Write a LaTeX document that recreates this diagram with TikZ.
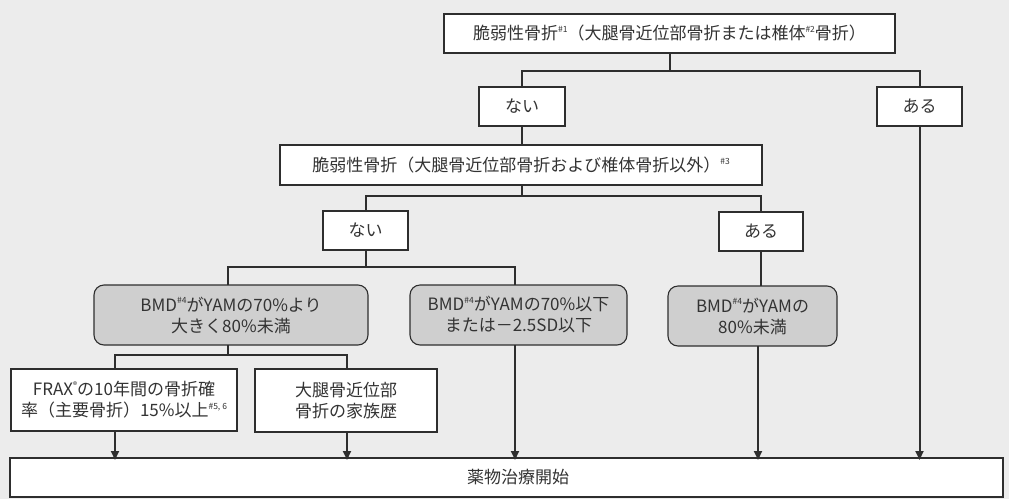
\documentclass[tikz,border=0pt]{standalone}
\usepackage{fontspec}
\setmainfont{Noto Sans CJK JP}
\usetikzlibrary{arrows.meta}
\definecolor{bgc}{HTML}{ECECEC}
\definecolor{grayfill}{HTML}{CFCFCF}
\definecolor{linec}{HTML}{2E2E2E}
\definecolor{textc}{HTML}{333333}
\newcommand{\supnote}[1]{\raisebox{0.8ex}{\fontsize{8.5}{8.5}\selectfont #1}}
\tikzset{
  box/.style={draw=linec, line width=1.1pt, fill=white, inner sep=0pt, outer sep=0pt,
    align=center, text=textc, font=\fontsize{17}{21}\selectfont},
  gbox/.style={box, fill=grayfill, rounded corners=10pt},
  conn/.style={draw=linec, line width=2pt},
  arr/.style={conn, -{Triangle[length=9pt,width=8pt]}}
}
\begin{document}
\begin{tikzpicture}[x=1pt,y=-1pt]
\useasboundingbox[fill=bgc] (0,0) rectangle (1009,499);
% boxes
\node[box, minimum width=451pt, minimum height=39pt] (top) at (669.5,33.5)
  {脆弱性骨折\supnote{\#1}（大腿骨近位部骨折または椎体\supnote{\#2}骨折）};
\node[box, minimum width=86pt, minimum height=39pt] (no1) at (522,106.5) {ない};
\node[box, minimum width=85pt, minimum height=39pt] (yes1) at (919.5,106.5) {ある};
\node[box, minimum width=482pt, minimum height=40pt] (second) at (521,165)
  {脆弱性骨折（大腿骨近位部骨折および椎体骨折以外）\supnote{\#3}};
\node[box, minimum width=85pt, minimum height=39pt] (no2) at (365.5,230.5) {ない};
\node[box, minimum width=84pt, minimum height=39pt] (yes2) at (761,231.5) {ある};
\node[gbox, minimum width=274pt, minimum height=60pt] (g1) at (231,315)
  {BMD\supnote{\#4}がYAMの70\%より\\大きく80\%未満};
\node[gbox, minimum width=217pt, minimum height=60pt] (g2) at (518.5,315)
  {BMD\supnote{\#4}がYAMの70\%以下\\または－2.5SD以下};
\node[gbox, minimum width=169pt, minimum height=60pt] (g3) at (752.5,316)
  {BMD\supnote{\#4}がYAMの\\80\%未満};
\node[box, minimum width=226pt, minimum height=62pt] (frax) at (124,400)
  {FRAX\supnote{®}の10年間の骨折確\\率（主要骨折）15\%以上\supnote{\#5, 6}};
\node[box, minimum width=182pt, minimum height=63pt] (fam) at (346,400.5)
  {大腿骨近位部\\骨折の家族歴};
\node[box, minimum width=993pt, minimum height=39pt] (bottom) at (506.5,477.5) {};
\node[font=\fontsize{17}{21}\selectfont, text=textc, inner sep=0pt] (btext) at (518,477.5) {薬物治療開始};
% junctions
\coordinate (j1) at (669.5,71);
\coordinate (j2) at (522,196);
\coordinate (j3) at (365.5,267);
\coordinate (j4) at (228,355);
% connectors
\draw[conn] (top.south) -- (j1);
\draw[conn] (no1.north) |- (j1) -| (yes1.north);
\draw[conn] (no1.south) -- (no1.south |- second.north);
\draw[arr] (yes1.south) -- ([yshift=-2pt]yes1.south |- bottom.north);
\draw[conn] (second.south -| j2) -- (j2);
\draw[conn] (no2.north) |- (j2) -| (yes2.north);
\draw[conn] (no2.south) -- (j3);
\draw[conn] ([xshift=-3pt]g1.north) |- (j3) -| ([xshift=-3.5pt]g2.north);
\draw[conn] (yes2.south) -- (yes2.south |- g3.north);
\draw[arr] ([xshift=-3.5pt]g2.south) -- ([xshift=-3.5pt,yshift=-2pt]g2.south |- bottom.north);
\draw[arr] ([xshift=5.5pt]g3.south) -- ([xshift=5.5pt,yshift=-2pt]g3.south |- bottom.north);
\draw[conn] (g1.south -| j4) -- (j4);
\draw[conn] ([xshift=-9pt]frax.north) |- (j4) -| ([xshift=1pt]fam.north);
\draw[arr] ([xshift=-9pt]frax.south) -- ([xshift=-9pt,yshift=-2pt]frax.south |- bottom.north);
\draw[arr] ([xshift=1pt]fam.south) -- ([xshift=1pt,yshift=-2pt]fam.south |- bottom.north);
\end{tikzpicture}
\end{document}
